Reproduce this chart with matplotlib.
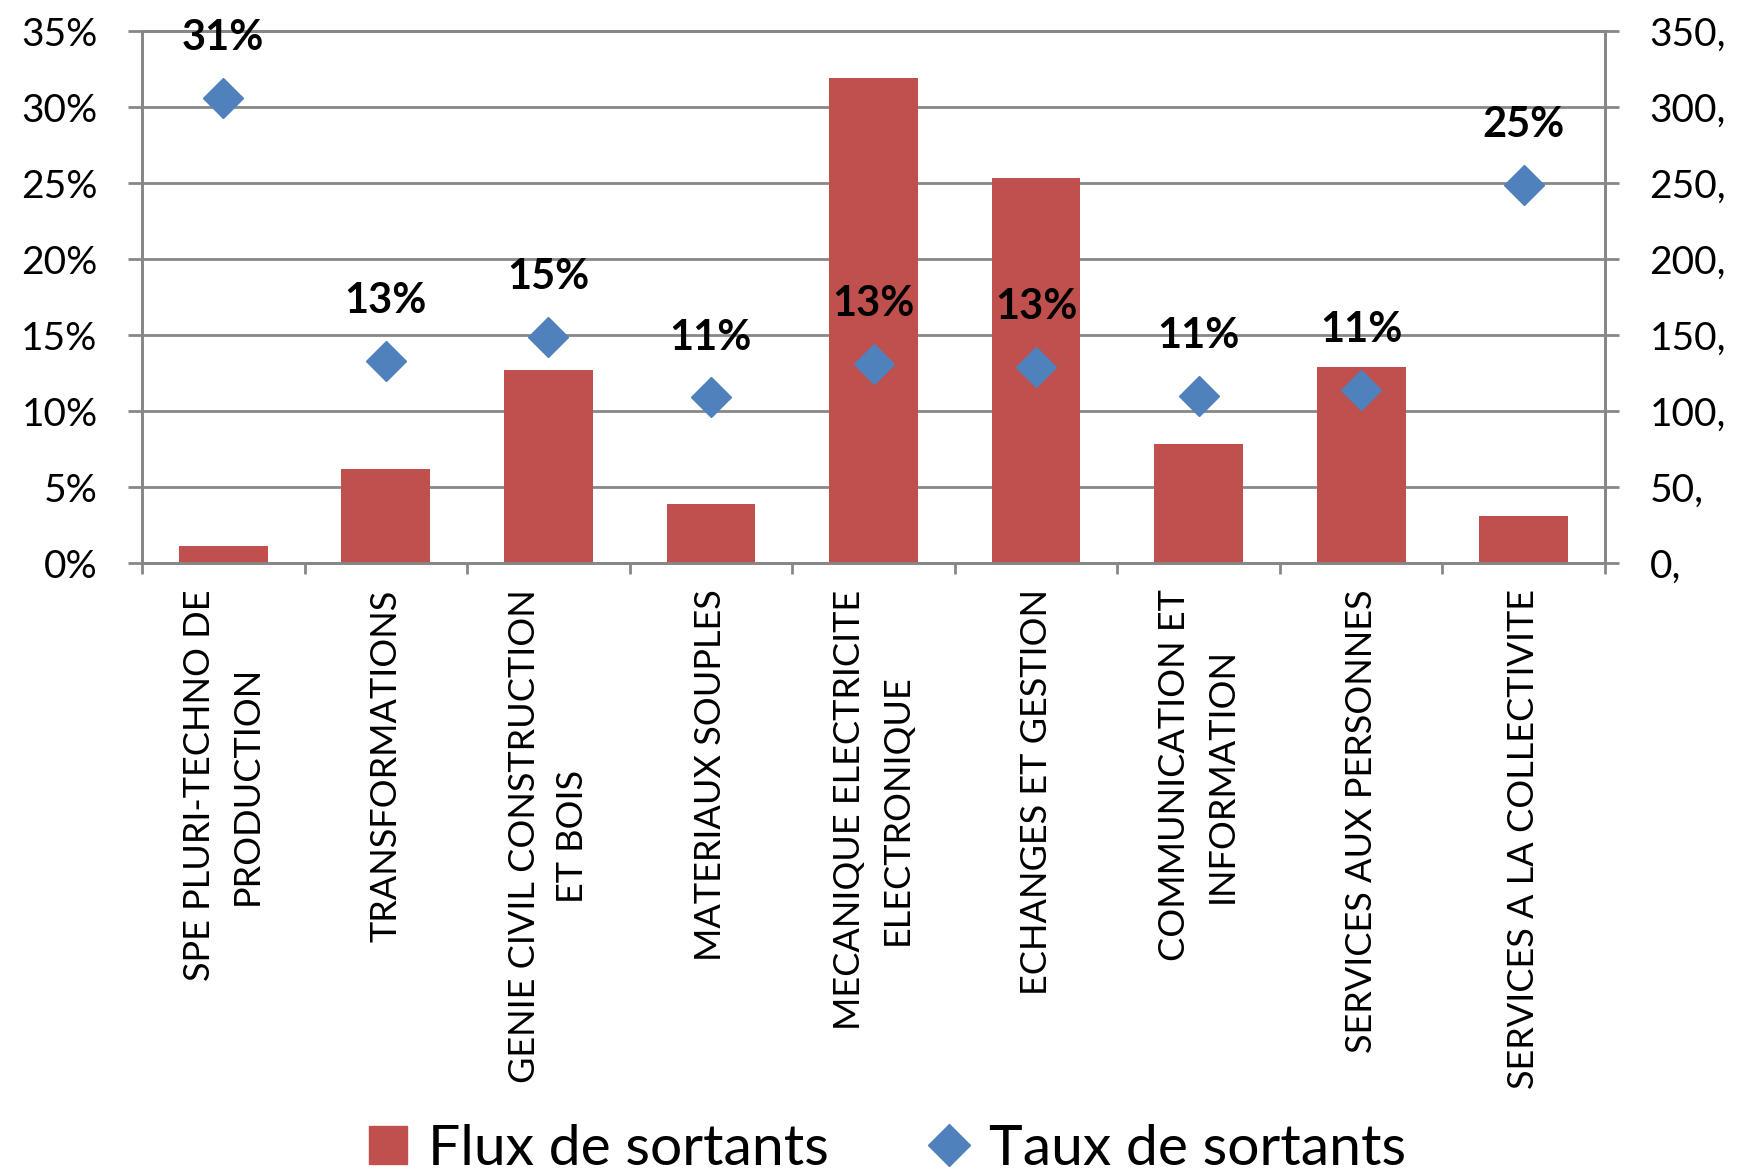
import matplotlib.pyplot as plt
from matplotlib.lines import Line2D
from matplotlib.ticker import FixedLocator

plt.rcParams['font.family'] = ['Lato', 'DejaVu Sans']

categories = ["SPE PLURI-TECHNO DE\nPRODUCTION", "TRANSFORMATIONS",
              "GENIE CIVIL CONSTRUCTION\nET BOIS", "MATERIAUX SOUPLES",
              "MECANIQUE ELECTRICITE\nELECTRONIQUE", "ECHANGES ET GESTION",
              "COMMUNICATION ET\nINFORMATION", "SERVICES AUX PERSONNES",
              "SERVICES A LA COLLECTIVITE"]
flux = [11, 62, 127, 39, 319, 253, 78, 129, 31]
taux = [30.6, 13.3, 14.9, 10.9, 13.1, 12.9, 11.0, 11.4, 24.9]
pct_ticks = [0, 5, 10, 15, 20, 25, 30, 35]
flux_ticks = [0, 50, 100, 150, 200, 250, 300, 350]
flux_labels = ["0,", "50,", "100,", "150,", "200,", "250,", "300,", "350,"]

red = "#C0504D"
blue = "#4F81BD"
grey = "#878787"

fig = plt.figure(figsize=(17.38, 11.72), dpi=100)
ax = fig.add_axes([0.0817, 0.5196, 0.8418, 0.4539])
ax2 = ax.twinx()

x = list(range(len(categories)))

# bars on the secondary (right) axis, drawn underneath
ax2.bar(x, flux, width=0.546, color=red, zorder=3)
ax2.set_ylim(0, 350)
ax2.set_yticks(flux_ticks)
ax2.set_yticklabels(flux_labels)
ax2.yaxis.grid(True, color=grey, linewidth=2, zorder=0)
ax2.set_xlim(-0.5, len(categories) - 0.5)
ax2.xaxis.set_minor_locator(FixedLocator([i - 0.5 for i in range(len(categories) + 1)]))
ax2.xaxis.grid(True, which='minor', color=grey, linewidth=2, zorder=0)
ax2.set_axisbelow(True)

# rate markers on primary axis, on top
ax.set_zorder(ax2.get_zorder() + 1)
ax.patch.set_visible(False)
ax.plot(x, taux, linestyle='none', marker='D', markersize=20, color=blue, zorder=5)
for xi, t in zip(x, taux):
    ax.annotate(f"{round(t):.0f}%", (xi, t), xytext=(0, 43), textcoords='offset points',
                ha='center', va='center', fontsize=30, fontweight='bold')
ax.set_ylim(0, 35)
ax.set_yticks(pct_ticks)
ax.set_yticklabels([f"{p}%" for p in pct_ticks])
ax.set_xlim(-0.5, len(categories) - 0.5)
ax.set_xticks(x)
ax.set_xticklabels(categories, rotation=90, ha='center', va='top', ma='center',
                   fontsize=26, linespacing=1.55)
ax.xaxis.set_minor_locator(FixedLocator([i - 0.5 for i in range(len(categories) + 1)]))
ax.tick_params(axis='x', which='major', length=0, pad=19)
ax.tick_params(axis='x', which='minor', length=8, width=2, color=grey)
ax.tick_params(axis='y', length=10, width=2, color=grey, labelsize=28, pad=22)
ax2.tick_params(axis='y', length=10, width=2, color=grey, labelsize=28, pad=22)
ax2.tick_params(axis='x', which='both', length=0, labelbottom=False)
for a in (ax, ax2):
    for s in a.spines.values():
        s.set_color(grey)
        s.set_linewidth(2)

handles = [Line2D([], [], linestyle='none', marker='s', markersize=28, color=red),
           Line2D([], [], linestyle='none', marker='D', markersize=21, color=blue)]
fig.legend(handles, ["Flux de sortants", "Taux de sortants"], loc='lower center',
           bbox_to_anchor=(0.508, -0.046), ncol=2, frameon=False, fontsize=41,
           handletextpad=0.2, columnspacing=1.6, handlelength=1.0)

fig.savefig("out.png", dpi=100)
